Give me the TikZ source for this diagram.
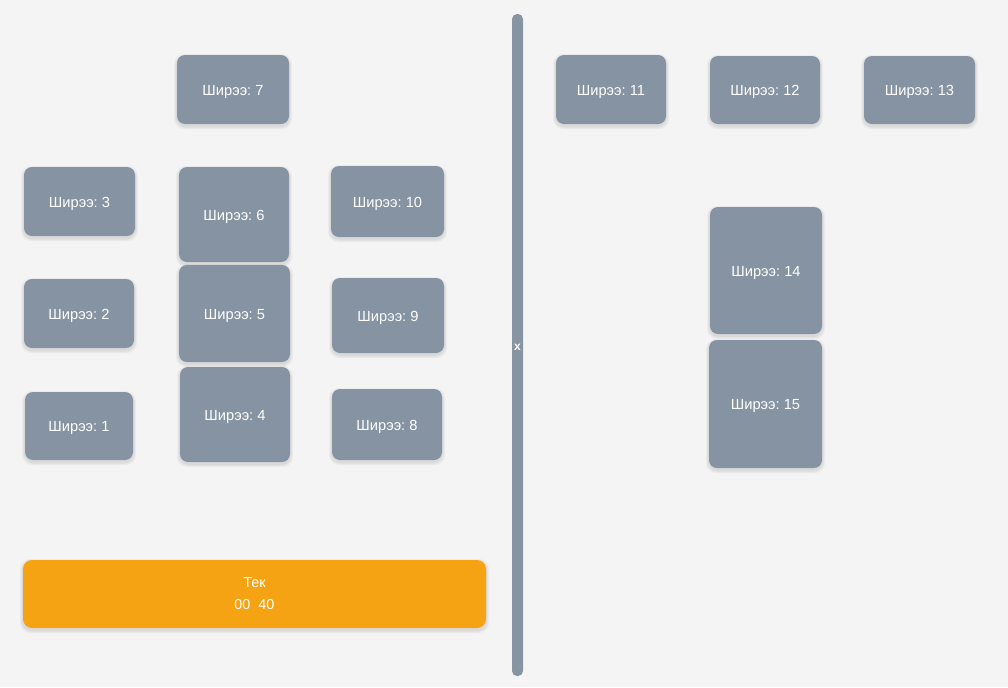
\documentclass[tikz,border=0pt]{standalone}
\usepackage{fontspec}
\setmainfont{Liberation Sans}
\frenchspacing
\definecolor{bg}{HTML}{F4F4F4}
\definecolor{card}{HTML}{8593A2}
\definecolor{barc}{HTML}{8795A3}
\definecolor{orng}{HTML}{F5A313}
\tikzset{
  shadelayer/.style={fill=black, fill opacity=0.035, rounded corners=10*0.75pt},
  card/.style={fill=card, rounded corners=8*0.75pt},
  cardtext/.style={text=white, font=\frenchspacing\fontsize{11}{12}\selectfont, inner sep=0pt},
  timer/.style={fill=orng, rounded corners=9*0.75pt},
  timertext/.style={text=white, font=\fontsize{10.8}{16.5}\selectfont, align=center, inner sep=0pt},
  divider/.style={fill=barc, rounded corners=5*0.75pt}
}
\newcommand{\softshade}[4]{%
  \foreach \e in {1,2,3}{\fill[shadelayer] (#1-\e,#2-\e+2) rectangle (#3+\e,#4+\e+2);}}
\newcommand{\cardbox}[6]{% name, x1, y1, x2, y2, label
  \softshade{#2}{#3}{#4}{#5}
  \node[card, minimum width=(#4-#2)*0.75pt, minimum height=(#5-#3)*0.75pt, inner sep=0pt]
    (#1) at ({(#2+#4)/2}, {(#3+#5)/2}) {};
  \node[cardtext] (#1t) at ({(#2+#4)/2}, {(#3+#5)/2+2}) {#6};}
\begin{document}
\begin{tikzpicture}[x=0.75pt, y=-0.75pt]
\fill[bg] (0,0) rectangle (1008,687);
\useasboundingbox (0,0) rectangle (1008,687);
% divider
\fill[divider] (512,14) rectangle (523,676);
\node[text=white, font=\bfseries\fontsize{9}{10}\selectfont, inner sep=0pt] (x) at (517.5,347) {x};
% left cards
\cardbox{c7}{177}{55}{289}{124}{Ширээ: 7}
\cardbox{c3}{24}{167}{135}{236}{Ширээ: 3}
\cardbox{c6}{179}{167}{289}{262}{Ширээ: 6}
\cardbox{c10}{331}{166}{444}{237}{Ширээ: 10}
\cardbox{c2}{24}{279}{134}{348}{Ширээ: 2}
\cardbox{c5}{179}{265}{290}{362}{Ширээ: 5}
\cardbox{c9}{332}{278}{444}{353}{Ширээ: 9}
\cardbox{c1}{25}{392}{133}{460}{Ширээ: 1}
\cardbox{c4}{180}{367}{290}{462}{Ширээ: 4}
\cardbox{c8}{332}{389}{442}{460}{Ширээ: 8}
% right cards
\cardbox{c11}{556}{55}{666}{124}{Ширээ: 11}
\cardbox{c12}{710}{56}{820}{124}{Ширээ: 12}
\cardbox{c13}{864}{56}{975}{124}{Ширээ: 13}
\cardbox{c14}{710}{207}{822}{334}{Ширээ: 14}
\cardbox{c15}{709}{340}{822}{468}{Ширээ: 15}
% timer
\softshade{23}{560}{486}{628}
\node[timer, minimum width=463*0.75pt, minimum height=68*0.75pt, inner sep=0pt] (tek) at (254.5,594) {};
\node[timertext] (tekt) at (254.5,594) {Тек\\00\ \ 40};
\end{tikzpicture}
\end{document}
